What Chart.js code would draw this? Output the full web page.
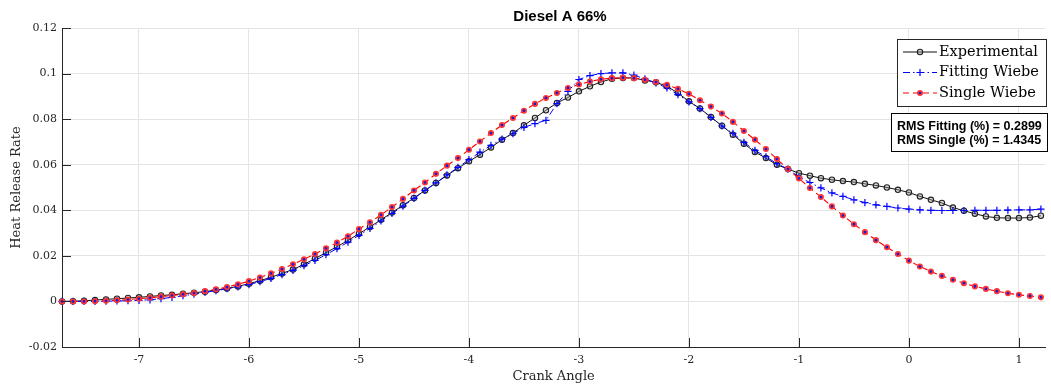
<!DOCTYPE html>
<html><head><meta charset="utf-8">
<script src="https://cdn.jsdelivr.net/npm/chart.js@4.4.0/dist/chart.umd.min.js"></script>
<style>html,body{margin:0;padding:0;background:#fff;overflow:hidden}canvas{display:block}</style>
</head><body>
<canvas id="c" width="1051" height="385"></canvas>
<script>
const chartTitle = 'Diesel A 66%';
const xAxisTitle = 'Crank Angle';
const yAxisTitle = 'Heat Release Rate';
const seriesNames = ['Experimental', 'Fitting Wiebe', 'Single Wiebe'];
const rmsLines = ['RMS Fitting (%) = 0.2899', 'RMS Single (%) = 1.4345'];

const crankAngle = [-7.7,-7.6,-7.5,-7.4,-7.3,-7.2,-7.1,-7.0,-6.9,-6.8,-6.7,-6.6,-6.5,-6.4,-6.3,-6.2,-6.1,-6.0,
 -5.9,-5.8,-5.7,-5.6,-5.5,-5.4,-5.3,-5.2,-5.1,-5.0,-4.9,-4.8,-4.7,-4.6,-4.5,-4.4,-4.3,-4.2,-4.1,-4.0,
 -3.9,-3.8,-3.7,-3.6,-3.5,-3.4,-3.3,-3.2,-3.1,-3.0,-2.9,-2.8,-2.7,-2.6,-2.5,-2.4,-2.3,-2.2,-2.1,-2.0,
 -1.9,-1.8,-1.7,-1.6,-1.5,-1.4,-1.3,-1.2,-1.1,-1.0,-0.9,-0.8,-0.7,-0.6,-0.5,-0.4,-0.3,-0.2,-0.1,0.0,
 0.1,0.2,0.3,0.4,0.5,0.6,0.7,0.8,0.9,1.0,1.1,1.2];

const experimental = [0,0.0001,0.0003,0.0006,0.0009,0.0012,0.0015,0.0018,0.0022,0.0026,0.0029,0.0034,0.0038,0.0043,0.005,0.0057,0.0066,0.0078,
 0.0091,0.0106,0.0123,0.014,0.0163,0.0188,0.0214,0.024,0.0268,0.0297,0.0327,0.0358,0.039,0.0422,0.0454,0.0487,0.052,0.0553,0.0585,0.0615,
 0.0644,0.0676,0.071,0.0739,0.0773,0.0805,0.0839,0.0871,0.0895,0.0922,0.0944,0.0963,0.0977,0.0981,0.0981,0.097,0.0962,0.0944,0.0915,0.0878,
 0.0847,0.0809,0.0771,0.0732,0.0692,0.0656,0.0629,0.06,0.0581,0.0563,0.0552,0.0541,0.0534,0.0528,0.0524,0.0516,0.0509,0.05,0.049,0.0478,
 0.0461,0.0446,0.0432,0.0412,0.0398,0.0385,0.0373,0.0367,0.0366,0.0366,0.0368,0.0376];

const fittingWiebe = [0,0,0,0,0.0001,0.0002,0.0003,0.0005,0.0007,0.0012,0.0018,0.0025,0.0032,0.004,0.0047,0.0056,0.0064,0.0074,
 0.0087,0.0101,0.0118,0.0136,0.0157,0.018,0.0205,0.0232,0.026,0.029,0.032,0.0353,0.0386,0.0418,0.0452,0.0487,0.052,0.0555,0.0588,0.0622,
 0.0655,0.0685,0.0712,0.0736,0.0764,0.078,0.0795,0.0868,0.0922,0.0974,0.0991,0.1,0.1003,0.1003,0.0993,0.0977,0.0959,0.0937,0.0908,0.0876,
 0.0846,0.0808,0.077,0.0738,0.0698,0.0663,0.0635,0.0605,0.0581,0.0546,0.0522,0.0498,0.0476,0.0461,0.0446,0.0434,0.0424,0.0417,0.041,0.0405,
 0.0402,0.04,0.0399,0.0399,0.0399,0.04,0.04,0.04,0.0401,0.0402,0.0402,0.0405];

const singleWiebe = [0,0,0,0.0001,0.0003,0.0005,0.0008,0.0012,0.0016,0.0021,0.0026,0.0031,0.0037,0.0045,0.0053,0.0063,0.0075,0.0089,
 0.0105,0.0123,0.0142,0.0163,0.0185,0.0208,0.0233,0.0258,0.0286,0.0318,0.0347,0.038,0.0414,0.045,0.0487,0.0522,0.056,0.0596,0.0629,0.0666,
 0.0702,0.0739,0.0774,0.0805,0.0837,0.0867,0.0893,0.0915,0.0937,0.0952,0.0965,0.0975,0.098,0.0982,0.098,0.0973,0.0963,0.0951,0.0933,0.0911,
 0.0883,0.0855,0.0825,0.0788,0.0748,0.071,0.0669,0.0625,0.0581,0.054,0.0498,0.0458,0.0417,0.0377,0.0339,0.0304,0.0269,0.0238,0.0208,0.0179,
 0.0153,0.0131,0.0112,0.0095,0.008,0.0066,0.0055,0.0045,0.0036,0.0029,0.0024,0.0018];

const xTicks = [-7,-6,-5,-4,-3,-2,-1,0,1];
const xTickLabels = ['-7','-6','-5','-4','-3','-2','-1','0','1'];
const yTicks = [-0.02,0,0.02,0.04,0.06,0.08,0.1,0.12];
const yTickLabels = ['-0.02','0','0.02','0.04','0.06','0.08','0.1','0.12'];

const toXY = arr => crankAngle.map((x, i) => ({x: x, y: arr[i]}));

const AXIS = '#262626';
const SERIF = '"DejaVu Serif", serif';

const styles = [
  {borderColor:'#111', borderWidth:1, borderDash:[], pointStyle:'circle', pointRadius:2.7, pointBorderWidth:1.1,
   pointBorderColor:'#222', pointBackgroundColor:'rgba(150,150,150,0.35)', order:3},
  {borderColor:'#0000ff', borderWidth:1, borderDash:[7,3,1.5,3], pointStyle:'cross', pointRadius:3.6, pointBorderWidth:1.2,
   pointBorderColor:'#0000ff', pointBackgroundColor:'#0000ff', order:2},
  {borderColor:'#ff0000', borderWidth:1.1, borderDash:[6,4], pointStyle:'circle', pointRadius:2.2, pointBorderWidth:1.7,
   pointBorderColor:'#ff3535', pointBackgroundColor:'#1a1ad0', order:1}
];
const seriesData = [experimental, fittingWiebe, singleWiebe];

function drawMarker(ctx, s, x, y) {
  ctx.save();
  ctx.setLineDash([]);
  ctx.lineWidth = s.pointBorderWidth;
  ctx.strokeStyle = s.pointBorderColor;
  ctx.fillStyle = s.pointBackgroundColor;
  if (s.pointStyle === 'circle') {
    ctx.beginPath(); ctx.arc(x, y, s.pointRadius, 0, Math.PI*2); ctx.fill(); ctx.stroke();
  } else {
    const r = s.pointRadius;
    ctx.beginPath(); ctx.moveTo(x-r, y); ctx.lineTo(x+r, y); ctx.moveTo(x, y-r); ctx.lineTo(x, y+r); ctx.stroke();
  }
  ctx.restore();
}

const overlay = {
  id: 'overlay',
  afterDraw(chart) {
    const ctx = chart.ctx, a = chart.chartArea, xs = chart.scales.x, ys = chart.scales.y;
    ctx.save();
    // inward ticks (MATLAB style)
    ctx.strokeStyle = AXIS; ctx.lineWidth = 1; ctx.setLineDash([]);
    ctx.beginPath();
    xTicks.forEach(v => { const p = Math.round(xs.getPixelForValue(v)) + 0.5; ctx.moveTo(p, a.bottom); ctx.lineTo(p, a.bottom - 9); });
    yTicks.forEach(v => { const p = Math.round(ys.getPixelForValue(v)) + 0.5; ctx.moveTo(a.left, p); ctx.lineTo(a.left + 9, p); });
    ctx.stroke();
    // title
    ctx.fillStyle = '#000'; ctx.textAlign = 'center'; ctx.textBaseline = 'middle';
    ctx.font = 'bold 15px "Liberation Sans", Arial, sans-serif';
    ctx.fillText(chartTitle, 560, 17);
    // legend
    const lx = 897.5, ly = 39.5, lw = 149, lh = 67;
    ctx.fillStyle = '#fff'; ctx.fillRect(lx, ly, lw, lh);
    ctx.strokeStyle = AXIS; ctx.lineWidth = 1; ctx.strokeRect(lx, ly, lw, lh);
    ctx.font = '14.5px ' + SERIF; ctx.textAlign = 'left'; ctx.textBaseline = 'middle';
    seriesNames.forEach((name, i) => {
      const s = styles[i], y = 52 + i * 20.5;
      ctx.save();
      ctx.strokeStyle = s.borderColor; ctx.lineWidth = s.borderWidth; ctx.setLineDash(s.borderDash);
      ctx.beginPath(); ctx.moveTo(903, y); ctx.lineTo(937, y); ctx.stroke();
      ctx.restore();
      drawMarker(ctx, s, 920, y);
      ctx.fillStyle = '#000';
      ctx.fillText(name, 939, y);
    });
    // RMS box
    const bx = 891.5, by = 113.5, bw = 156, bh = 38;
    ctx.fillStyle = '#fff'; ctx.fillRect(bx, by, bw, bh);
    ctx.strokeStyle = '#000'; ctx.lineWidth = 1; ctx.strokeRect(bx, by, bw, bh);
    ctx.fillStyle = '#000';
    ctx.font = 'bold 12.5px "Liberation Sans", Arial, sans-serif';
    rmsLines.forEach((t, i) => ctx.fillText(t, 897, 126.5 + i * 14));
    ctx.restore();
  }
};

new Chart(document.getElementById('c'), {
  type: 'line',
  data: {
    datasets: seriesNames.map((name, i) => Object.assign({
      label: name, data: toXY(seriesData[i]), tension: 0, fill: false, clip: false
    }, styles[i]))
  },
  options: {
    responsive: false, animation: false, devicePixelRatio: 1,
    layout: {padding: {top: 28, right: 0, left: 0, bottom: 0}},
    plugins: {legend: {display: false}, title: {display: false}, tooltip: {enabled: false}},
    scales: {
      x: {
        type: 'linear', min: -7.7, max: 1.24,
        afterBuildTicks: s => { s.ticks = xTicks.map(v => ({value: v})); },
        afterFit: s => { s.height = 38; s.paddingLeft = 0; s.paddingRight = 0; },
        grid: {color: '#e4e4e4', drawTicks: false, lineWidth: 1},
        border: {display: true, color: AXIS, width: 1},
        ticks: {padding: 7, color: AXIS, font: {family: SERIF, size: 11}, callback: (v, i) => xTickLabels[i], maxRotation: 0, autoSkip: false},
        title: {display: true, text: xAxisTitle, color: AXIS, font: {family: SERIF, size: 13}, padding: {top: 0, bottom: 1}}
      },
      y: {
        type: 'linear', min: -0.02, max: 0.12,
        afterBuildTicks: s => { s.ticks = yTicks.map(v => ({value: v})); },
        afterFit: s => { s.width = 62; s.paddingTop = 0; s.paddingBottom = 0; },
        grid: {color: '#e4e4e4', drawTicks: false, lineWidth: 1},
        border: {display: true, color: AXIS, width: 1},
        ticks: {padding: 5, color: AXIS, font: {family: SERIF, size: 11}, callback: (v, i) => yTickLabels[i], autoSkip: false},
        title: {display: true, text: yAxisTitle, color: AXIS, font: {family: SERIF, size: 13}, padding: {top: 9, bottom: 0}}
      }
    }
  },
  plugins: [overlay]
});
</script>
</body></html>
